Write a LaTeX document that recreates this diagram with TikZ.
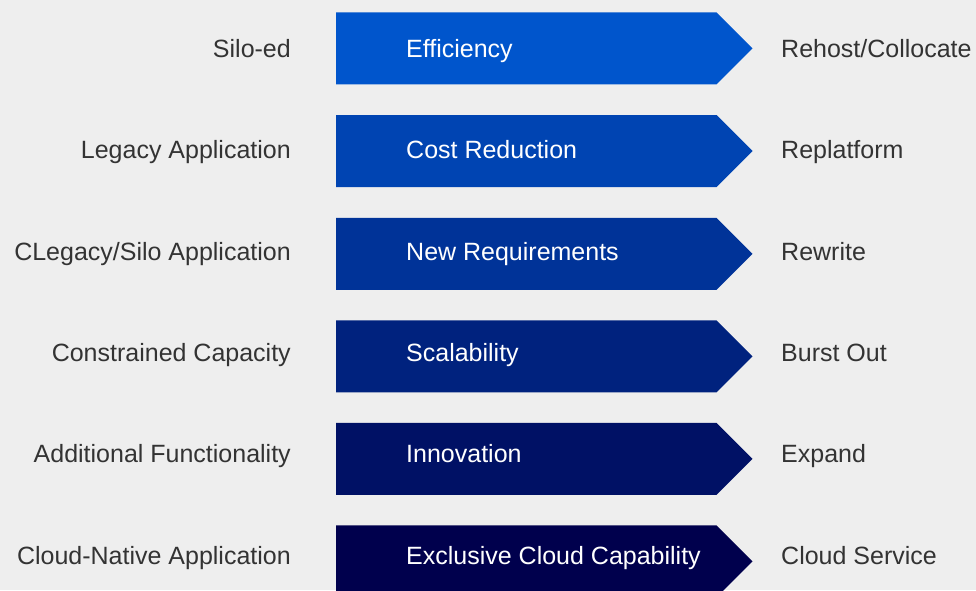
\documentclass[tikz,border=0pt]{standalone}
\usepackage{fontspec}
\setmainfont{Liberation Sans}
\definecolor{bg}{HTML}{EEEEEE}
\definecolor{lbl}{HTML}{333333}
\definecolor{cA}{RGB}{0,85,204}
\definecolor{cB}{RGB}{0,68,178}
\definecolor{cC}{RGB}{0,51,152}
\definecolor{cD}{RGB}{0,34,126}
\definecolor{cE}{RGB}{0,17,101}
\definecolor{cF}{RGB}{0,0,77}
\tikzset{
  lefttxt/.style={anchor=base east, text=lbl, font=\fontsize{25}{30}\selectfont, inner sep=0pt},
  midtxt/.style={anchor=base west, text=white, font=\fontsize{25}{30}\selectfont, inner sep=0pt},
  righttxt/.style={anchor=base west, text=lbl, font=\fontsize{25}{30}\selectfont, inner sep=0pt},
}
\newcommand{\chevshape}[2]{% top y, colour
  \fill[#2] (336,#1) -- (716.5,#1) -- (752.5,#1+36) -- (716.5,#1+72) -- (336,#1+72) -- cycle;}
\begin{document}
\begin{tikzpicture}[x=1pt,y=-1pt]
\fill[bg] (0,0) rectangle (976,590);
\useasboundingbox (0,0) rectangle (976,590);
\clip (0,0) rectangle (976,590);
\chevshape{12.3}{cA}
\chevshape{115.0}{cB}
\chevshape{217.8}{cC}
\chevshape{320.4}{cD}
\chevshape{422.9}{cE}
\chevshape{525.4}{cF}
\node[lefttxt] (l1) at (291,57.3) {Silo-ed};
\node[lefttxt] (l2) at (291,158.6) {Legacy Application};
\node[lefttxt] (l3) at (291,260) {CLegacy/Silo Application};
\node[lefttxt] (l4) at (291,361.3) {Constrained Capacity};
\node[lefttxt] (l5) at (291,462.6) {Additional Functionality};
\node[lefttxt] (l6) at (291,564) {Cloud-Native Application};
\node[midtxt] (m1) at (406,57.3) {Efficiency};
\node[midtxt] (m2) at (406,158.6) {Cost Reduction};
\node[midtxt] (m3) at (406,260) {New Requirements};
\node[midtxt] (m4) at (406,361.3) {Scalability};
\node[midtxt] (m5) at (406,462.6) {Innovation};
\node[midtxt] (m6) at (406,564) {Exclusive Cloud Capability};
\node[righttxt] (r1) at (781,57.3) {Rehost/Collocate};
\node[righttxt] (r2) at (781,158.6) {Replatform};
\node[righttxt] (r3) at (781,260) {Rewrite};
\node[righttxt] (r4) at (781,361.3) {Burst Out};
\node[righttxt] (r5) at (781,462.6) {Expand};
\node[righttxt] (r6) at (781,564) {Cloud Service};
\end{tikzpicture}
\end{document}
